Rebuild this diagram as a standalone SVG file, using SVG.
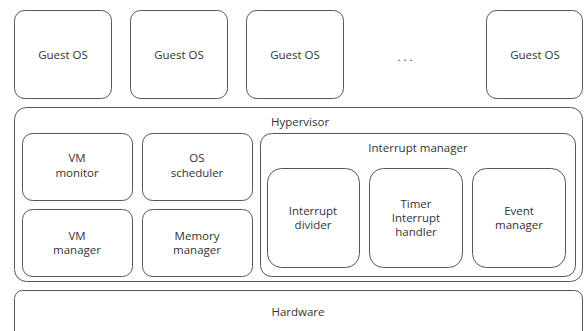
<svg xmlns="http://www.w3.org/2000/svg" width="584" height="331" viewBox="0 0 584 331">
<style>
rect{fill:#fff;stroke:#555;stroke-width:1}
text{font-family:"Open Sans","Noto Sans","Liberation Sans",sans-serif;font-size:11.5px;fill:#333;text-anchor:middle}
</style>
<rect x="0" y="0" width="584" height="331" style="stroke:none"/>
<g id="guest1"><rect x="14.5" y="10.5" width="97" height="88" rx="10"/><text x="63" y="59">Guest OS</text></g>
<g id="guest2"><rect x="130.5" y="10.5" width="97" height="88" rx="10"/><text x="179" y="59">Guest OS</text></g>
<g id="guest3"><rect x="246.5" y="10.5" width="97" height="88" rx="10"/><text x="295" y="59">Guest OS</text></g>
<g id="dots"><text x="405" y="61">. . .</text></g>
<g id="guest4"><rect x="486.5" y="10.5" width="96" height="88" rx="10"/><text x="535" y="59">Guest OS</text></g>
<g id="hypervisor"><rect x="14.5" y="107.5" width="568" height="174" rx="12"/><text x="300" y="126">Hypervisor</text></g>
<g id="vm-monitor"><rect x="22.5" y="133.5" width="110" height="67" rx="10"/><text x="77" y="162">VM</text><text x="77" y="177">monitor</text></g>
<g id="os-scheduler"><rect x="142.5" y="133.5" width="110" height="67" rx="10"/><text x="197" y="162">OS</text><text x="197" y="177">scheduler</text></g>
<g id="vm-manager"><rect x="22.5" y="209.5" width="110" height="67" rx="10"/><text x="77" y="240">VM</text><text x="77" y="254">manager</text></g>
<g id="memory-manager"><rect x="142.5" y="209.5" width="110" height="67" rx="10"/><text x="197" y="240">Memory</text><text x="197" y="254">manager</text></g>
<g id="interrupt-manager"><rect x="260.5" y="133.5" width="315" height="143" rx="11"/><text x="418" y="152">Interrupt manager</text></g>
<g id="interrupt-divider"><rect x="267.5" y="168.5" width="92" height="99" rx="14"/><text x="313" y="215">Interrupt</text><text x="313" y="229">divider</text></g>
<g id="timer-handler"><rect x="369.5" y="168.5" width="93" height="99" rx="14"/><text x="416" y="208">Timer</text><text x="416" y="222">Interrupt</text><text x="416" y="236">handler</text></g>
<g id="event-manager"><rect x="472.5" y="168.5" width="93" height="99" rx="14"/><text x="519" y="215">Event</text><text x="519" y="229">manager</text></g>
<g id="hardware"><rect x="14.5" y="290.5" width="568" height="50" rx="8"/><text x="298" y="316">Hardware</text></g>
<g id="connectors"></g>
</svg>
